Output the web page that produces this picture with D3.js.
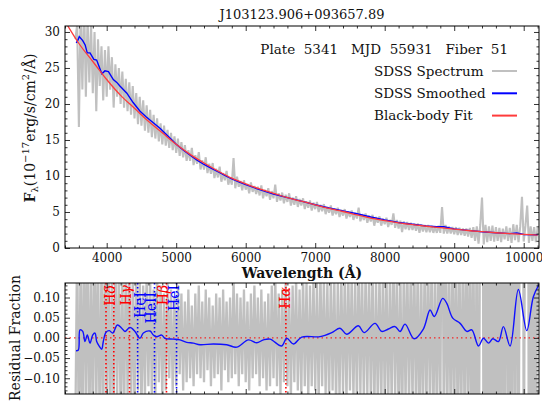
<!DOCTYPE html>
<html>
<head>
<meta charset="utf-8">
<script src="https://cdn.jsdelivr.net/npm/d3@7"></script>
<style>
  body { margin: 0; background: #fff; }
  svg text { font-family: "DejaVu Serif", serif; fill: #111; }
</style>
</head>
<body>
<svg id="chart" width="542" height="402"></svg>
<script>
// ---- data ----
const titleText = "J103123.906+093657.89";
const infoText = "Plate  5341   MJD  55931   Fiber  51";

// gray SDSS spectrum, one value every 25 A from 3550 A
const specStart = 3550, specStep = 25;
const specFlux = [
  29.0,
  31.0, 16.8, 33.0, 22.0, 34.0, 21.0, 32.0, 23.0,
  31.0, 21.5, 30.0, 19.0, 29.0, 22.5, 28.0, 20.5,
  27.5, 21.0, 28.0, 22.0, 26.5, 19.5, 25.5, 21.0,
  25.0, 20.0, 24.5, 19.5, 23.5, 19.0, 23.0, 18.5,
  22.5, 18.0, 21.5, 17.2, 21.0, 17.0, 20.5, 16.3,
  19.8, 16.0, 19.2, 15.4, 18.5, 15.2, 18.0, 14.8,
  17.3, 14.4, 17.0, 14.2, 16.4, 13.9, 16.0, 13.6,
  15.5, 13.2, 15.2, 12.8, 14.7, 12.6, 14.3, 12.1,
  13.6, 12.1, 13.9, 11.5, 12.9, 11.7, 13.3, 10.9,
  12.2, 10.9, 12.6, 10.4, 11.7, 10.3, 11.8, 9.7,
  11.0, 9.8, 11.3, 9.2, 10.4, 9.4, 10.7, 8.8,
  9.8, 8.8, 12.5, 8.3, 9.9, 8.5, 9.3, 8.0,
  9.4, 8.1, 8.9, 7.6, 9.1, 7.8, 8.6, 7.5,
  8.5, 7.3, 8.7, 6.9, 8.1, 7.2, 8.3, 6.7,
  7.9, 6.9, 8.8, 6.4, 7.6, 6.6, 7.7, 6.2,
  7.4, 6.4, 7.6, 5.9, 7.0, 6.0, 7.2, 5.7,
  6.8, 5.9, 6.9, 5.4, 6.5, 5.6, 6.6, 5.2,
  6.3, 5.4, 6.4, 5.0, 6.0, 5.1, 6.1, 4.7,
  5.7, 4.9, 5.9, 4.5, 5.5, 4.7, 5.6, 4.3,
  5.3, 4.5, 5.4, 4.1, 5.1, 4.3, 5.2, 3.9,
  4.9, 4.1, 5.6, 3.7, 4.7, 3.9, 4.8, 3.5,
  4.5, 3.7, 4.6, 3.1, 4.3, 3.5, 4.4, 3.1,
  4.1, 3.3, 4.2, 2.9, 3.9, 3.2, 4.8, 2.8,
  3.9, 2.7, 3.8, 2.2, 3.7, 2.6, 3.6, 2.5,
  3.5, 2.5, 3.4, 2.4, 3.4, 2.1, 3.3, 2.3,
  3.2, 2.2, 3.2, 2.2, 3.1, 2.1, 3.0, 2.1,
  3.1, 2.1, 5.7, 2.0, 3.2, 2.0, 3.0, 2.0,
  2.9, 1.9, 2.9, 1.8, 2.8, 1.8, 2.7, 1.7,
  2.7, 1.6, 2.8, 1.4, 2.9, 1.0, 3.0, 0.6,
  3.2, 7.0, 0.5, 3.2, 0.8, 3.0, 1.0, 3.1,
  0.9, 2.9, 1.0, 2.8, 0.8, 2.7, 1.2, 3.0,
  1.0, 2.8, 0.7, 3.3, 1.1, 3.2, 0.8, 3.0,
  7.1, 0.9, 3.1, 5.9, 0.7, 3.0, 1.0, 2.9, 0.8, 2.8
];

// blue smoothed spectrum
const smoothWave = [3560, 3580, 3605, 3655, 3690, 3720, 3760, 3815, 3855, 3930, 3975, 4025, 4095, 4145, 4190,
  4290, 4380, 4480, 4570, 4670, 4770, 4865, 4950, 5000, 5100, 5200, 5300, 5400, 5500, 5600, 5700, 5800,
  5900, 6000, 6200, 6400, 6600, 6800, 7000, 7200, 7400, 7600, 7800, 8000, 8200, 8400, 8600, 8750, 8850,
  9000, 9200, 9400, 9600, 9800, 9900, 10000, 10200];
const smoothFlux = [28.5, 28.7, 29.35, 28.8, 28.2, 27.1, 27.1, 26.2, 26.1, 24.2, 24.6, 24.5, 23.4, 23.0, 22.5,
  21.5, 20.2, 19.0, 18.2, 17.4, 16.6, 15.7, 14.9, 14.4, 13.6, 12.9, 12.2, 11.6, 11.1, 10.6, 10.1, 9.6,
  9.2, 8.8, 8.1, 7.5, 7.0, 6.5, 6.0, 5.55, 5.15, 4.75, 4.3, 3.9, 3.55, 3.3, 3.05, 2.95, 2.95,
  2.65, 2.45, 2.25, 2.12, 2.0, 2.1, 1.88, 1.85];

// red black-body fit
const fitWave = [3400, 3600, 3800, 4000, 4200, 4400, 4600, 4800, 5000, 5200, 5400, 5600, 5800, 6000, 6200,
  6400, 6600, 6800, 7000, 7200, 7400, 7600, 7800, 8000, 8200, 8400, 8600, 8800, 9000, 9200, 9400, 9600,
  9800, 10000, 10200];
const fitFlux = [31.5, 28.4, 25.9, 23.4, 21.2, 19.4, 17.6, 16.0, 14.4, 13.0, 11.8, 10.7, 9.7, 8.9, 8.2,
  7.6, 7.0, 6.5, 6.0, 5.5, 5.07, 4.6, 4.15, 3.8, 3.5, 3.25, 3.02, 2.82, 2.63, 2.43, 2.27, 2.12,
  2.0, 1.9, 1.8];

// gray residual fraction, same 25 A grid
const residFrac = [
  -0.2,
  0.25, -0.3, 0.22, -0.28, 0.3, -0.2, 0.26, -0.25,
  0.2, -0.24, 0.28, -0.18, 0.22, -0.26, 0.19, -0.21,
  0.24, -0.17, 0.2, -0.23, 0.16, -0.2, 0.21, -0.15,
  0.18, -0.19, 0.15, -0.22, 0.2, -0.14, 0.17, -0.18,
  0.14, -0.17, 0.19, -0.13, 0.16, -0.19, 0.13, -0.15,
  0.17, -0.12, 0.15, -0.16, 0.12, -0.14, 0.16, -0.11,
  0.13, -0.15, 0.11, -0.13, 0.14, -0.1, 0.12, -0.14,
  0.1, -0.12, 0.13, -0.09, 0.11, -0.13, 0.09, -0.11,
  0.12, -0.1, 0.08, -0.12, 0.11, -0.09, 0.13, -0.1,
  0.09, -0.11, 0.12, -0.08, 0.1, -0.12, 0.08, -0.1,
  0.11, -0.09, 0.1, -0.13, 0.12, -0.08, 0.09, -0.11,
  0.1, -0.1, 0.15, -0.09, 0.11, -0.12, 0.1, -0.09,
  0.12, -0.11, 0.09, -0.13, 0.11, -0.1, 0.13, -0.09,
  0.1, -0.12, 0.12, -0.1, 0.09, -0.13, 0.11, -0.12,
  0.13, -0.1, 0.16, -0.12, 0.11, -0.14, 0.12, -0.11,
  0.14, -0.12, 0.12, -0.15, 0.13, -0.11, 0.15, -0.13,
  0.12, -0.14, 0.16, -0.12, 0.14, -0.15, 0.13, -0.12,
  0.15, -0.13, 0.14, -0.16, 0.17, -0.12, 0.15, -0.14,
  0.14, -0.16, 0.16, -0.13, 0.15, -0.17, 0.14, -0.15,
  0.17, -0.14, 0.15, -0.16, 0.18, -0.13, 0.16, -0.15,
  0.15, -0.17, 0.2, -0.14, 0.16, -0.16, 0.17, -0.14,
  0.16, -0.15, 0.18, -0.2, 0.15, -0.16, 0.17, -0.18,
  0.18, -0.16, 0.17, -0.18, 0.16, -0.17, 0.22, -0.15,
  0.17, -0.2, 0.18, -0.25, 0.19, -0.16, 0.2, -0.18,
  0.19, -0.17, 0.21, -0.19, 0.2, -0.24, 0.18, -0.2,
  0.2, -0.19, 0.22, -0.18, 0.21, -0.22, 0.19, -0.21,
  0.22, -0.2, 0.6, -0.22, 0.24, -0.21, 0.22, -0.23,
  0.23, -0.22, 0.25, -0.24, 0.22, -0.25, 0.24, -0.23,
  0.26, -0.25, 0.28, -0.3, 0.3, -0.45, 0.35, -0.6,
  0.5, 1.5, -0.7, 0.6, -0.55, 0.55, -0.5, 0.6,
  -0.5, 0.55, -0.45, 0.5, -0.55, 0.5, -0.35, 0.6,
  -0.45, 0.55, -0.6, 0.75, -0.4, 0.7, -0.5, 0.7,
  2.8, -0.5, 0.7, 2.1, -0.6, 0.65, -0.45, 0.6, -0.55, 0.6
];

// blue smoothed residual
const residWave = [3558, 3592, 3616, 3655, 3688, 3721, 3760, 3798, 3832, 3856, 3894, 3928, 3951, 3990, 4038,
  4086, 4153, 4216, 4263, 4335, 4407, 4479, 4527, 4623, 4671, 4719, 4791, 4839, 4959, 5055, 5151, 5246,
  5343, 5534, 5727, 5871, 6038, 6158, 6254, 6350, 6518, 6590, 6686, 6806, 7070, 7238, 7357, 7453, 7621,
  7703, 7861, 7957, 8053, 8149, 8221, 8293, 8422, 8556, 8653, 8714, 8834, 8892, 8979, 9085, 9181, 9253,
  9349, 9421, 9493, 9555, 9636, 9708, 9804, 9923, 10044, 10139, 10226];
const residSmooth = [-0.032, -0.030, 0.020, 0.016, -0.009, 0.007, -0.013, 0.007, 0.012, -0.009, -0.021, -0.028,
  -0.009, 0.014, 0.018, 0.012, 0.032, 0.024, 0.016, 0.026, 0.016, -0.001, 0.012, 0.017, 0.007, 0.003, 0.007,
  -0.001, -0.003, -0.005, -0.011, -0.013, -0.017, -0.015, -0.017, -0.023, -0.005, -0.012, -0.005, -0.003,
  -0.020, -0.001, -0.015, 0.002, 0.003, 0.013, 0.024, 0.009, 0.030, 0.013, 0.036, 0.016, 0.022, 0.028,
  0.016, 0.034, -0.002, 0.022, 0.069, 0.053, 0.098, 0.086, 0.049, 0.036, 0.016, 0.020, -0.020, -0.001,
  -0.013, -0.002, -0.009, 0.028, -0.020, 0.120, 0.018, 0.102, 0.134];

// line markers in the residual panel
const lineWaves = [3990, 4102, 4328, 4445, 4688, 4860, 5005, 6578];
const lineNames = ["", "Hδ", "Hγ", "HeI", "HeII", "Hβ", "HeI", "Hα"];
const lineLabelWaves = [3990, 4043, 4283, 4482, 4636, 4816, 4964, 6565];
const lineKinds = ["H", "H", "H", "He", "He", "H", "He", "H"];

const legendNames = ["SDSS Spectrum", "SDSS Smoothed", "Black-body Fit"];

const xMajor = [4000, 5000, 6000, 7000, 8000, 9000, 10000];
const yTopMajor = [0, 5, 10, 15, 20, 25, 30];
const yResMajor = [-0.10, -0.05, 0.00, 0.05, 0.10];

// ---- drawing ----
const svg = d3.select("#chart");
const kindColor = { H: "#ff0000", He: "#0000ff" };
const legendColors = ["#c0c0c0", "#0000ff", "#ff3b3b"];

const x = d3.scaleLinear().domain([3400, 10220]).range([65, 539]);
const yTop = d3.scaleLinear().domain([0, 30.83]).range([248, 26]);
const yRes = d3.scaleLinear().domain([-0.139, 0.136]).range([394, 283]);

const specData = specFlux.map((v, i) => ({ w: specStart + i * specStep, v: v }));
const residData = residFrac.map((v, i) => ({ w: specStart + i * specStep, v: v }));

function clip(id, y) {
  svg.append("defs").append("clipPath").attr("id", id)
    .append("rect")
    .attr("x", x.range()[0]).attr("y", y.range()[1])
    .attr("width", x.range()[1] - x.range()[0])
    .attr("height", y.range()[0] - y.range()[1]);
}
clip("clipTop", yTop);
clip("clipRes", yRes);

function lineOf(y, curve) {
  return d3.line().x(d => x(d.w)).y(d => y(d.v)).curve(curve || d3.curveLinear);
}

// top panel
const topPanel = svg.append("g").attr("clip-path", "url(#clipTop)");
topPanel.append("path").datum(specData)
  .attr("fill", "none").attr("stroke", legendColors[0]).attr("stroke-width", 2.1)
  .attr("stroke-linejoin", "bevel")
  .attr("d", lineOf(yTop));
topPanel.append("path").datum(smoothWave.map((w, i) => ({ w: w, v: smoothFlux[i] })))
  .attr("fill", "none").attr("stroke", legendColors[1]).attr("stroke-width", 1.4)
  .attr("d", lineOf(yTop));
topPanel.append("path").datum(fitWave.map((w, i) => ({ w: w, v: fitFlux[i] })))
  .attr("fill", "none").attr("stroke", legendColors[2]).attr("stroke-width", 1.3)
  .attr("d", lineOf(yTop, d3.curveMonotoneX));

// residual panel
const resPanel = svg.append("g").attr("clip-path", "url(#clipRes)");
resPanel.append("path").datum(residData)
  .attr("fill", "none").attr("stroke", legendColors[0]).attr("stroke-width", 2.3)
  .attr("stroke-linejoin", "bevel")
  .attr("d", lineOf(yRes));
resPanel.append("line")
  .attr("x1", x.range()[0]).attr("x2", x.range()[1])
  .attr("y1", yRes(0)).attr("y2", yRes(0))
  .attr("stroke", "#ff0000").attr("stroke-width", 1).attr("stroke-dasharray", "1.5,3");

lineWaves.forEach((w, i) => {
  resPanel.append("line")
    .attr("x1", x(w)).attr("x2", x(w))
    .attr("y1", yRes.range()[1]).attr("y2", yRes.range()[0])
    .attr("stroke", kindColor[lineKinds[i]]).attr("stroke-width", 1.6)
    .attr("stroke-dasharray", "1.6,2.4");
});
resPanel.append("path").datum(residWave.map((w, i) => ({ w: w, v: residSmooth[i] })))
  .attr("fill", "none").attr("stroke", "#1010ff").attr("stroke-width", 1.4)
  .attr("d", lineOf(yRes, d3.curveCatmullRom.alpha(0.5)));

// line labels, reading upward from the top edge
const labelTops = [285, 285, 285, 292, 292, 285, 285, 287];
lineNames.forEach((name, i) => {
  if (!name) return;
  const t = resPanel.append("text")
    .attr("transform", `translate(${x(lineLabelWaves[i])},${labelTops[i]}) rotate(-90)`)
    .attr("text-anchor", "end")
    .attr("dominant-baseline", "central")
    .style("font-size", "14px")
    .style("fill", kindColor[lineKinds[i]]);
  const greek = name.match(/[α-ω]/);
  if (greek) {
    t.append("tspan").text(name.replace(greek[0], ""));
    t.append("tspan").text(greek[0]).style("font-style", "italic");
  } else {
    t.text(name);
  }
});

// axes with inward ticks on all sides
function axes(y, yMajor, yMinorStep, yFmt, xLabels) {
  const [x0, x1] = x.range();
  const [yb, yt] = y.range();
  const xMinor = d3.range(3400, 10220, 200).filter(v => !xMajor.includes(v));
  const yMinor = d3.range(Math.ceil(y.domain()[0] / yMinorStep), Math.floor(y.domain()[1] / yMinorStep) + 1)
    .map(k => +(k * yMinorStep).toFixed(3))
    .filter(v => !yMajor.some(m => Math.abs(m - v) < 1e-6));

  const parts = [
    [d3.axisBottom(x).tickValues(xMajor).tickSize(-5).tickPadding(5).tickFormat(xLabels ? d3.format("d") : ""), `translate(0,${yb})`],
    [d3.axisBottom(x).tickValues(xMinor).tickSize(-2.5).tickFormat(""), `translate(0,${yb})`],
    [d3.axisTop(x).tickValues(xMajor).tickSize(-5).tickFormat(""), `translate(0,${yt})`],
    [d3.axisTop(x).tickValues(xMinor).tickSize(-2.5).tickFormat(""), `translate(0,${yt})`],
    [d3.axisLeft(y).tickValues(yMajor).tickSize(-5).tickPadding(5).tickFormat(yFmt), `translate(${x0},0)`],
    [d3.axisLeft(y).tickValues(yMinor).tickSize(-2.5).tickFormat(""), `translate(${x0},0)`],
    [d3.axisRight(y).tickValues(yMajor).tickSize(-5).tickFormat(""), `translate(${x1},0)`],
    [d3.axisRight(y).tickValues(yMinor).tickSize(-2.5).tickFormat(""), `translate(${x1},0)`]
  ];
  parts.forEach(([ax, tr]) => {
    const g = svg.append("g").attr("transform", tr).call(ax);
    g.select(".domain").remove();
    g.selectAll("line").attr("stroke", "#000").attr("stroke-width", 0.8);
    g.selectAll("text").style("font-family", "'DejaVu Serif', serif").style("font-size", "12px").attr("fill", "#222");
  });
  svg.append("rect")
    .attr("x", x0).attr("y", yt).attr("width", x1 - x0).attr("height", yb - yt)
    .attr("fill", "none").attr("stroke", "#000").attr("stroke-width", 1);
}
axes(yTop, yTopMajor, 1, d3.format("d"), true);
axes(yRes, yResMajor, 0.01, d3.format(".2f"), false);

// titles and labels
svg.append("text").attr("x", 302).attr("y", 19).attr("text-anchor", "middle")
  .style("font-size", "13px").text(titleText);
svg.append("text").attr("x", 508).attr("y", 54).attr("text-anchor", "end")
  .style("font-size", "13.5px").style("white-space", "pre").attr("xml:space", "preserve").text(infoText);

legendNames.forEach((name, i) => {
  const ly = 71 + i * 22.3;
  svg.append("text").attr("x", 374).attr("y", ly + 4.5).style("font-size", "13.5px").text(name);
  svg.append("line").attr("x1", 492).attr("x2", 517).attr("y1", ly).attr("y2", ly)
    .attr("stroke", legendColors[i]).attr("stroke-width", 2);
});

svg.append("text").attr("x", 302).attr("y", 278).attr("text-anchor", "middle")
  .style("font-size", "14px").style("font-weight", "bold").text("Wavelength (Å)");

const yl = svg.append("text").attr("transform", "translate(35,128) rotate(-90)")
  .attr("text-anchor", "middle").style("font-size", "14px");
yl.append("tspan").text("F").style("font-weight", "bold");
yl.append("tspan").text("λ").attr("dy", 3).style("font-size", "10px");
yl.append("tspan").text("(10").attr("dy", -3);
yl.append("tspan").text("−17").attr("dy", -6).style("font-size", "10px");
yl.append("tspan").text("erg/s/cm").attr("dy", 6);
yl.append("tspan").text("2").attr("dy", -6).style("font-size", "10px");
yl.append("tspan").text("/Å)").attr("dy", 6);

svg.append("text").attr("transform", "translate(20,338) rotate(-90)")
  .attr("text-anchor", "middle").style("font-size", "14px").text("Residual Fraction");
</script>
</body>
</html>
